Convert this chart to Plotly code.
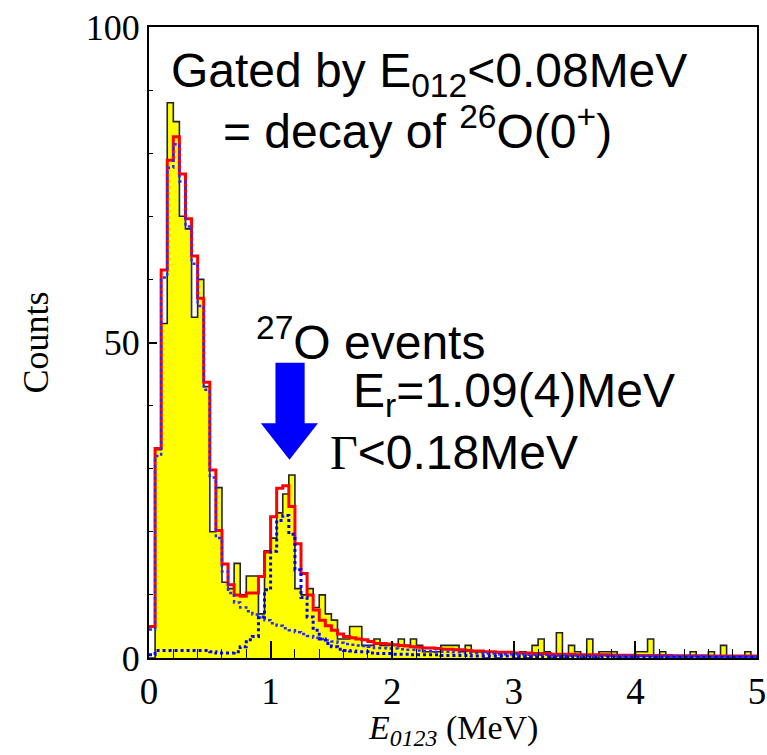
import numpy as np
import plotly.graph_objects as go

# ---- data (bins of 0.05 MeV from 0 to 5 MeV) ----
bin_width = 0.05
n_bins = 100
edges = [round(i * bin_width, 4) for i in range(n_bins + 1)]

counts = [0, 33, 53, 88, 85, 70, 68, 54, 60, 43,
          20, 27, 12, 11, 15, 10, 13, 13, 7, 17,
          19, 23, 26, 29, 11, 10, 11, 8, 10, 7,
          6, 3, 3, 5, 5, 2, 2, 3, 2, 2,
          2, 3, 2, 3, 2, 1, 1, 1, 2, 2,
          2, 1, 2, 1, 1, 0, 1, 0, 1, 1,
          0, 1, 0, 2, 3, 1, 0, 4, 0, 2,
          1, 0, 3, 0, 1, 1, 1, 0, 0, 0,
          1, 1, 3, 0, 1, 0, 0, 0, 0, 1,
          0, 0, 1, 0, 2, 0, 0, 0, 1, 0]

fit_total = [5.0, 33.2, 61.5, 78.9, 82.6, 76.7, 69.6, 63.7, 57.0, 43.7,
             29.8, 20.2, 14.9, 11.6, 10.0, 9.8, 10.3, 10.3, 12.9, 16.8,
             22.4, 26.9, 27.3, 24.0, 18.1, 13.4, 10.0, 7.6, 6.0, 5.1,
             4.4, 3.8, 3.4, 3.2, 3.0, 2.9, 2.6, 2.3, 2.3, 2.2,
             2.1, 2.0, 1.9, 1.8, 1.7, 1.6, 1.6, 1.5, 1.4, 1.4,
             1.3, 1.3, 1.2, 1.1, 1.1, 1.0, 1.0, 0.9, 0.9, 0.9,
             0.8, 0.8, 0.8, 0.7, 0.7, 0.7, 0.6, 0.6, 0.6, 0.6,
             0.5, 0.5, 0.5, 0.5, 0.5, 0.5, 0.45, 0.45, 0.45, 0.45,
             0.4, 0.4, 0.4, 0.4, 0.4, 0.4, 0.35, 0.35, 0.35, 0.35,
             0.35, 0.35, 0.3, 0.3, 0.3, 0.3, 0.3, 0.3, 0.3, 0.3]

comp_26O = [4.5, 32.0, 60.3, 77.7, 81.4, 75.5, 68.4, 62.5, 55.8, 42.5,
            28.6, 19.0, 13.7, 10.3, 8.8, 8.0, 7.4, 6.9, 6.4, 6.0,
            5.5, 5.1, 4.7, 4.4, 4.1, 3.8, 3.5, 3.2, 3.0, 2.8,
            2.6, 2.4, 2.2, 2.1, 2.0, 1.9, 1.8, 1.6, 1.6, 1.5,
            1.5, 1.4, 1.3, 1.3, 1.2, 1.1, 1.1, 1.0, 1.0, 1.0,
            0.9, 0.9, 0.8, 0.8, 0.8, 0.7, 0.7, 0.6, 0.6, 0.6,
            0.6, 0.6, 0.5, 0.5, 0.5, 0.5, 0.4, 0.4, 0.4, 0.4,
            0.4, 0.4, 0.4, 0.4, 0.4, 0.4, 0.35, 0.35, 0.35, 0.35,
            0.3, 0.3, 0.3, 0.3, 0.3, 0.3, 0.3, 0.3, 0.3, 0.3,
            0.3, 0.3, 0.25, 0.25, 0.25, 0.25, 0.25, 0.25, 0.25, 0.25]

comp_27O = [0.5, 1.2, 1.2, 1.2, 1.2, 1.2, 1.2, 1.2, 1.2, 1.2,
            1.0, 0.8, 0.8, 0.8, 1.0, 1.8, 2.9, 3.4, 6.5, 10.8,
            16.9, 21.8, 22.6, 19.6, 14.0, 9.6, 6.5, 4.4, 3.0, 2.3,
            1.8, 1.4, 1.2, 1.1, 1.0, 1.0, 0.8, 0.7, 0.7, 0.7,
            0.6, 0.6, 0.6, 0.5, 0.5, 0.5, 0.5, 0.5, 0.4, 0.4,
            0.4, 0.4, 0.4, 0.3, 0.3, 0.3, 0.3, 0.3, 0.3, 0.3,
            0.2, 0.2, 0.2, 0.2, 0.2, 0.2, 0.2, 0.2, 0.2, 0.2,
            0.1, 0.1, 0.1, 0.1, 0.1, 0.1, 0.1, 0.1, 0.1, 0.1,
            0.1, 0.1, 0.1, 0.1, 0.1, 0.1, 0.1, 0.1, 0.1, 0.1,
            0.1, 0.1, 0.1, 0.1, 0.1, 0.1, 0.1, 0.1, 0.1, 0.1]


def step(vals):
    return list(vals) + [vals[-1]]


fig = go.Figure()

fig.add_trace(go.Scatter(
    x=edges, y=step(counts), mode="lines", line_shape="hv",
    line=dict(color="#222222", width=1.6),
    fill="tozeroy", fillcolor="#ffff00", name="data", showlegend=False))

fig.add_trace(go.Scatter(
    x=edges, y=step(fit_total), mode="lines", line_shape="hv",
    line=dict(color="#ff0000", width=3), name="fit", showlegend=False))

fig.add_trace(go.Scatter(
    x=edges, y=step(comp_26O), mode="lines", line_shape="hv",
    line=dict(color="#2a2aff", width=2.5, dash="dot"), name="26O", showlegend=False))

fig.add_trace(go.Scatter(
    x=edges, y=step(comp_27O), mode="lines", line_shape="hv",
    line=dict(color="#0000ff", width=3, dash="dot"), name="27O", showlegend=False))

# big blue arrow (decoration), in data coordinates
arrow_path = "M 1.04,46.8 L 1.28,46.8 L 1.28,37.2 L 1.39,37.2 L 1.155,31.4 L 0.92,37.2 L 1.04,37.2 Z"
fig.add_shape(type="path", path=arrow_path, xref="x", yref="y",
              fillcolor="#0000ff", line=dict(color="#0000ff", width=0), layer="above")

sans = "Liberation Sans, Arial, sans-serif"
serif = "Liberation Serif, Times New Roman, serif"
txt_font = dict(family=sans, size=48, color="black")

annos = [
    dict(x=0.165, y=92.6, text="Gated by E<sub>012</sub>&lt;0.08MeV"),
    dict(x=0.59, y=84.0, text="= decay of <sup>26</sup>O(0<sup>+</sup>)"),
    dict(x=0.86, y=50.5, text="<sup>27</sup>O events"),
    dict(x=1.66, y=41.9, text="E<sub>r</sub>=1.09(4)MeV"),
    dict(x=1.47, y=32.6,
         text="<span style='font-family:Liberation Serif'>Γ</span>&lt;0.18MeV"),
]
for a in annos:
    fig.add_annotation(x=a["x"], y=a["y"], xref="x", yref="y", text=a["text"],
                       showarrow=False, xanchor="left", yanchor="middle",
                       font=txt_font)

# x-axis title
fig.add_annotation(x=2.5, y=-0.114, xref="x", yref="paper",
                   text="<i>E</i><sub><i>0123</i></sub> (MeV)", showarrow=False,
                   xanchor="center", yanchor="middle",
                   font=dict(family=serif, size=34, color="black"))

fig.update_layout(
    width=767, height=755,
    margin=dict(l=149, r=10, t=27, b=97, autoexpand=False),
    paper_bgcolor="white", plot_bgcolor="white",
    xaxis=dict(
        range=[0, 5], dtick=1, tick0=0, automargin=False,
        showline=True, linecolor="black", linewidth=2, mirror=True,
        ticks="inside", ticklen=17, tickwidth=1.5, tickcolor="black",
        minor=dict(dtick=0.2, ticks="inside", ticklen=9, tickcolor="black", tickwidth=1.2),
        showgrid=False, zeroline=False,
        tickfont=dict(family=serif, size=37, color="black"),
    ),
    yaxis=dict(
        range=[0, 100], dtick=50, tick0=0, automargin=False,
        showline=True, linecolor="black", linewidth=2, mirror=True,
        ticks="inside", ticklen=8, tickwidth=1.5, tickcolor="black",
        minor=dict(dtick=10, ticks="inside", ticklen=4, tickcolor="black", tickwidth=1.2),
        showgrid=False, zeroline=False,
        tickfont=dict(family=serif, size=36, color="black"),
        title=dict(text="Counts", font=dict(family=serif, size=36, color="black"),
                   standoff=26),
    ),
)

fig.write_html("out.html")
